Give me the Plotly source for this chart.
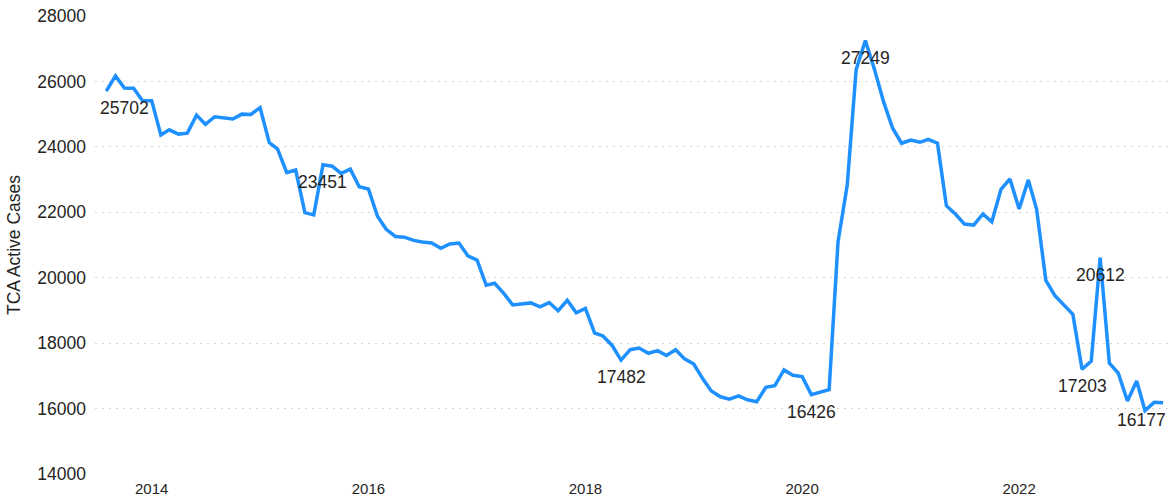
import pandas as pd
import plotly.graph_objects as go

# Monthly TCA active cases, Aug 2013 .. May 2023
start_month = "2013-08-01"
values = [
    25702, 26170, 25800, 25790, 25410, 25410, 24360, 24520, 24390, 24420,
    24970, 24690, 24920, 24880, 24850, 25000, 24990, 25200, 24130, 23930,
    23210, 23290, 21990, 21920, 23451, 23410, 23190, 23320, 22780, 22710,
    21870, 21480, 21260, 21240, 21140, 21090, 21060, 20900, 21030, 21060,
    20670, 20540, 19770, 19830, 19520, 19170, 19190, 19230, 19110, 19240,
    18990, 19310, 18930, 19060, 18310, 18220, 17930, 17482, 17800, 17850,
    17690, 17770, 17620, 17800, 17520, 17360, 16900, 16540, 16360, 16290,
    16390, 16270, 16210, 16650, 16700, 17180, 17020, 16980, 16426, 16490,
    16580, 21100, 22830, 26360, 27249, 26360, 25390, 24570, 24110, 24210,
    24140, 24230, 24110, 22200, 21940, 21640, 21610, 21950, 21710, 22700,
    23020, 22100, 22990, 22090, 19920, 19460, 19180, 18880, 17203, 17450,
    20612, 17390, 17080, 16230, 16840, 15940, 16190, 16177,
]
dates = pd.date_range(start_month, periods=len(values), freq="MS")

# indices of points that carry a data label
label_idx = [0, 24, 57, 78, 84, 108, 110, 117]

y_ticks = [14000, 16000, 18000, 20000, 22000, 24000, 26000, 28000]
y_title = "TCA Active Cases"

FONT = "Liberation Sans, Arial, sans-serif"
TXT = "#252423"

fig = go.Figure()
fig.add_trace(go.Scatter(
    x=dates, y=values, mode="lines",
    line=dict(color="#1E90FF", width=3.5),
    hoverinfo="x+y", showlegend=False,
))

n = len(values)
for i in label_idx:
    if i == 0:
        xa, xs = "left", -8
    elif i == n - 1:
        xa, xs = "right", 5
    else:
        xa, xs = "center", 0
    fig.add_annotation(
        x=dates[i], y=values[i], text=str(values[i]), showarrow=False,
        xanchor=xa, yanchor="middle", xshift=xs, yshift=-17,
        font=dict(family=FONT, size=17.5, color=TXT),
    )

fig.update_layout(
    width=1172, height=498,
    margin=dict(l=95, r=0, t=16, b=24),
    paper_bgcolor="white", plot_bgcolor="white",
    font=dict(family=FONT, color=TXT),
)
fig.update_xaxes(
    range=["2013-06-24", "2023-05-31"],
    tick0="2014-01-01", dtick="M24", tickformat="%Y",
    showgrid=False, zeroline=False, showline=False, ticks="",
    ticklabelstandoff=4,
    tickfont=dict(family=FONT, size=15, color=TXT),
)
fig.update_yaxes(
    range=[14000, 28000], tickvals=y_ticks, tickformat="d",
    showgrid=True, gridcolor="#D6D6D6", griddash="2px,5px", gridwidth=1,
    zeroline=False, showline=False, ticks="",
    ticklabelstandoff=8,
    tickfont=dict(family=FONT, size=17.5, color=TXT),
    title=dict(text=y_title, font=dict(family=FONT, size=17.5, color=TXT), standoff=12),
)

fig.write_html(
    "out.html",
    config={"displayModeBar": False},
    post_script="document.body.style.margin='0px';document.body.style.overflow='hidden';",
)
